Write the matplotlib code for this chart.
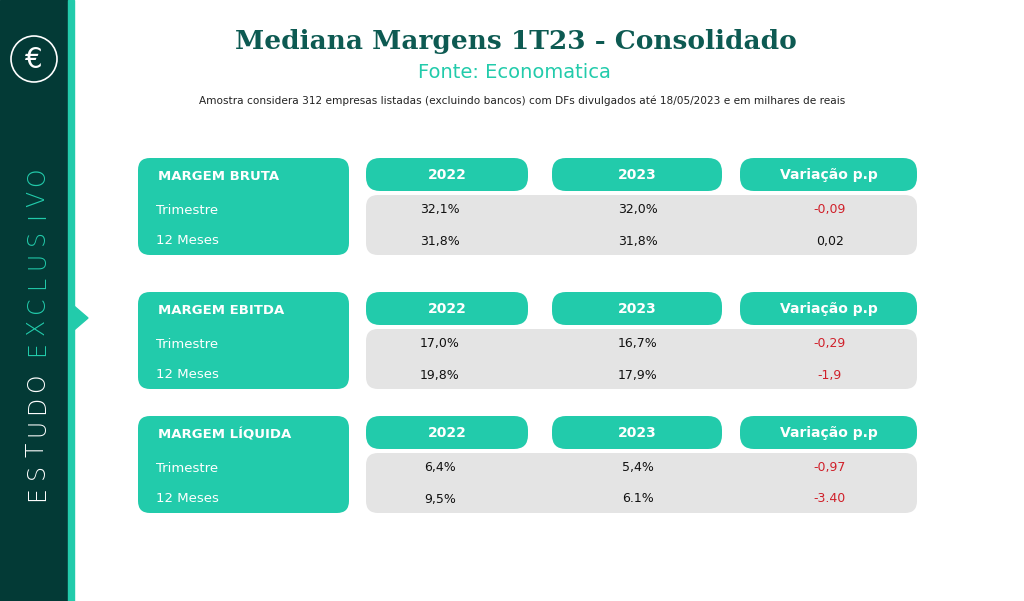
import matplotlib
matplotlib.use("Agg")
import matplotlib.pyplot as plt
from matplotlib.patches import FancyBboxPatch, Rectangle, Polygon, Circle

sections = ["MARGEM BRUTA", "MARGEM EBITDA", "MARGEM LÍQUIDA"]
rows = ["Trimestre", "12 Meses"]
columns = ["2022", "2023", "Variação p.p"]
v2022 = [["32,1%", "31,8%"], ["17,0%", "19,8%"], ["6,4%", "9,5%"]]
v2023 = [["32,0%", "31,8%"], ["16,7%", "17,9%"], ["5,4%", "6.1%"]]
var = [["-0,09", "0,02"], ["-0,29", "-1,9"], ["-0,97", "-3.40"]]

TEAL = "#22cbab"
DARK = "#033a36"
GREY = "#e4e4e4"
RED = "#d0202a"

fig = plt.figure(figsize=(10.24, 6.01), dpi=100)
ax = fig.add_axes([0, 0, 1, 1])
ax.set_xlim(0, 1024); ax.set_ylim(601, 0); ax.axis("off")

# sidebar
ax.add_patch(Rectangle((0, 0), 68, 601, color=DARK))
ax.add_patch(Rectangle((68, 0), 6, 601, color=TEAL))
ax.add_patch(Polygon([(74, 306), (88, 318), (74, 330)], color=TEAL))
ax.add_patch(Circle((34, 59), 23, fill=False, ec="white", lw=1.2))
ax.text(34, 60, "€", color="white", fontsize=20, ha="center", va="center")

# letter-spaced vertical label
word1, word2 = "ESTUDO", "EXCLUSIVO"
step = 22.2
y = 494
for ch in word1:
    ax.text(37, y, ch, color="white", fontsize=17, rotation=90, ha="center", va="center",
            fontweight="light")
    y -= step
y -= 12
for ch in word2:
    ax.text(37, y, ch, color=TEAL, fontsize=17, rotation=90, ha="center", va="center",
            fontweight="light")
    y -= step if ch not in "I" else step * 0.75

# titles
ax.text(516, 42, "Mediana Margens 1T23 - Consolidado", color="#0d5a52", fontsize=19,
        fontweight="bold", family="DejaVu Serif", ha="center", va="center")
ax.text(514, 73, "Fonte: Economatica", color=TEAL, fontsize=14, ha="center", va="center")
ax.text(522, 101, "Amostra considera 312 empresas listadas (excluindo bancos) com DFs divulgados até 18/05/2023 e em milhares de reais",
        color="#222222", fontsize=7.6, ha="center", va="center")

def rbox(x0, y0, x1, y1, color, r=10):
    ax.add_patch(FancyBboxPatch((x0 + r, y0 + r), x1 - x0 - 2 * r, y1 - y0 - 2 * r,
                                boxstyle=f"round,pad={r}", fc=color, ec="none"))

col_x = [(366, 528), (552, 722), (740, 917)]
val_x = [440, 638, 830]
for i, sec in enumerate(sections):
    top = 158 + [0, 134, 258][i]
    rbox(138, top, 349, top + 97, TEAL, 12)
    ax.text(158, top + 19, sec, color="white", fontsize=9.5, fontweight="bold", va="center")
    for j, r in enumerate(rows):
        ax.text(156, top + 52 + 31 * j, r, color="white", fontsize=9.5, va="center")
    for (x0, x1), c in zip(col_x, columns):
        rbox(x0, top, x1, top + 33, TEAL, 14)
        ax.text((x0 + x1) / 2, top + 17, c, color="white", fontsize=10, fontweight="bold",
                ha="center", va="center")
    rbox(366, top + 37, 917, top + 97, GREY, 12)
    for j in range(2):
        yy = top + 52 + 31 * j
        ax.text(val_x[0], yy, v2022[i][j], fontsize=9, ha="center", va="center", color="#111")
        ax.text(val_x[1], yy, v2023[i][j], fontsize=9, ha="center", va="center", color="#111")
        v = var[i][j]
        ax.text(val_x[2], yy, v, fontsize=9, ha="center", va="center",
                color=RED if v.startswith("-") else "#111")

fig.savefig("out.png", dpi=100)
